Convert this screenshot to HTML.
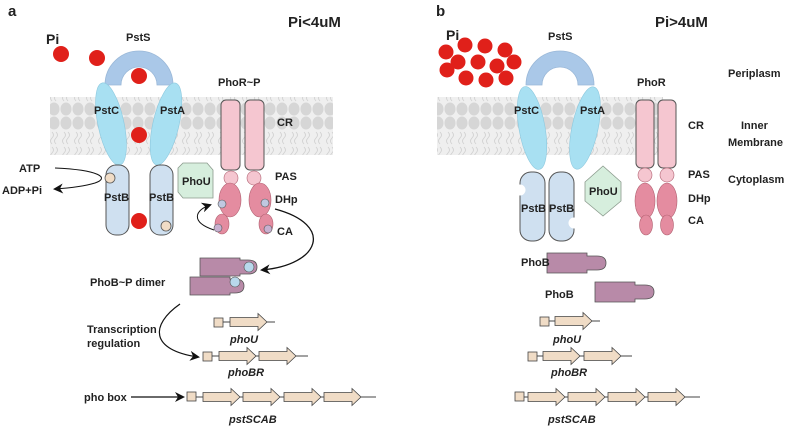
<!DOCTYPE html>
<html><head><meta charset="utf-8"><style>
body{margin:0;background:#fff}
svg{display:block}
text{font-family:"Liberation Sans",Arial,sans-serif;font-weight:bold;font-size:11px;fill:#222}
.it{font-style:italic}
</style></head><body>
<svg width="800" height="428" viewBox="0 0 800 428" xmlns="http://www.w3.org/2000/svg">
<defs>
<marker id="ah" markerWidth="10" markerHeight="10" refX="8" refY="5" orient="auto" markerUnits="userSpaceOnUse"><path d="M0,0 L10,5 L0,10 L3,5 z" fill="#111"/></marker>
<pattern id="mem" width="12" height="58" patternUnits="userSpaceOnUse">
<rect width="12" height="58" fill="#efefef"/>
<ellipse cx="6" cy="7" rx="5.5" ry="6.5" fill="#d6d6d6"/>
<ellipse cx="6" cy="51" rx="5.5" ry="6.5" fill="#d6d6d6"/>
<path d="M4,16 q3,3 0,6 q-3,3 0,6 M8,16 q3,3 0,6 q-3,3 0,6 M4,31 q3,3 0,6 q-3,3 0,6 M8,31 q3,3 0,6 q-3,3 0,6" stroke="#cfcfcf" fill="none" stroke-width="0.8"/>
</pattern>
<g id="gene"><path d="M0,-4.5 h28 v-4 l9,8.5 l-9,8.5 v-4 h-28 z" fill="#f0dcc6" stroke="#444" stroke-width="0.8"/></g>
</defs>

<!-- Panel a -->
<text x="8" y="16" style="font-size:15px">a</text>
<text x="288" y="27" style="font-size:15px">Pi&lt;4uM</text>
<text x="46" y="44" style="font-size:14px">Pi</text>
<text x="126" y="41" style="font-size:11px">PstS</text>
<rect x="50" y="97" width="283" height="58" fill="url(#mem)"/>
<path d="M105,85 A34,34 0 0 1 173,85 L157,85 A18,18 0 0 0 121,85 z" fill="#aac8e8" stroke="#9ab8d8" stroke-width="0.8"/>
<ellipse cx="111" cy="124" rx="13" ry="42" transform="rotate(-12 111 124)" fill="#a8e0f2" stroke="#8cc8de" stroke-width="0.6"/>
<ellipse cx="166" cy="124" rx="13" ry="42" transform="rotate(13 166 124)" fill="#a8e0f2" stroke="#8cc8de" stroke-width="0.6"/>
<text x="94" y="114">PstC</text><text x="160" y="114">PstA</text>
<rect x="106" y="165" width="23" height="70" rx="10" fill="#cfe0f0" stroke="#555"/>
<rect x="150" y="165" width="23" height="70" rx="10" fill="#cfe0f0" stroke="#555"/>
<text x="104" y="201">PstB</text><text x="149" y="201">PstB</text>
<circle cx="110" cy="178" r="5" fill="#f0dcc6" stroke="#555" stroke-width="0.8"/>
<circle cx="166" cy="226" r="5" fill="#f0dcc6" stroke="#555" stroke-width="0.8"/>
<g fill="#e0201a"><circle cx="61" cy="54" r="8"/><circle cx="97" cy="58" r="8"/><circle cx="139" cy="76" r="8"/><circle cx="139" cy="135" r="8"/><circle cx="139" cy="221" r="8"/></g>
<text x="19" y="172">ATP</text><text x="2" y="194">ADP+Pi</text>
<path d="M55,168 C100,170 110,178 95,183 C85,186 70,188 55,189" stroke="#111" fill="none" stroke-width="1" marker-end="url(#ah)"/>
<path d="M183,163 h24 l6,7 v28 h-30 l-5,-6 v-24 z" fill="#d6eedd" stroke="#8a9a8c" stroke-width="0.8"/>
<text x="182" y="185">PhoU</text>
<text x="218" y="86">PhoR~P</text>
<rect x="221" y="100" width="19" height="70" rx="5" fill="#f5c6d0" stroke="#555"/>
<rect x="245" y="100" width="19" height="70" rx="5" fill="#f5c6d0" stroke="#555"/>
<circle cx="231" cy="178" r="7" fill="#f5c6d0" stroke="#b06070" stroke-width="0.6"/>
<circle cx="254" cy="178" r="7" fill="#f5c6d0" stroke="#b06070" stroke-width="0.6"/>
<ellipse cx="230" cy="200" rx="11" ry="17" fill="#e48ca0" stroke="#b06070" stroke-width="0.6"/>
<ellipse cx="260" cy="200" rx="11" ry="17" fill="#e48ca0" stroke="#b06070" stroke-width="0.6"/>
<ellipse cx="222" cy="224" rx="7" ry="10" fill="#e48ca0" stroke="#b06070" stroke-width="0.6"/>
<ellipse cx="266" cy="224" rx="7" ry="10" fill="#e48ca0" stroke="#b06070" stroke-width="0.6"/>
<circle cx="222" cy="204" r="4" fill="#c0c8e0" stroke="#555" stroke-width="0.6"/>
<circle cx="265" cy="203" r="4" fill="#c0c8e0" stroke="#555" stroke-width="0.6"/>
<circle cx="218" cy="228" r="4" fill="#c8b0d0" stroke="#555" stroke-width="0.6"/>
<circle cx="268" cy="229" r="4" fill="#c8b0d0" stroke="#555" stroke-width="0.6"/>
<path d="M214,230 C190,222 195,210 210,205" stroke="#111" fill="none" marker-end="url(#ah)"/>
<text x="277" y="126">CR</text><text x="275" y="180">PAS</text><text x="275" y="203">DHp</text><text x="277" y="235">CA</text>
<path d="M275,209 C335,225 320,265 262,270" stroke="#111" fill="none" stroke-width="1.3" marker-end="url(#ah)"/>
<path d="M200,258 h40 v2 h8 q9,0 9,7 q0,7 -9,7 h-8 v2 h-40 z" fill="#b88aa8" stroke="#555" stroke-width="0.8"/>
<path d="M190,277 h40 v2 h5 q9,0 9,7 q0,7 -9,7 h-5 v2 h-40 z" fill="#b88aa8" stroke="#555" stroke-width="0.8"/>
<circle cx="249" cy="267" r="5" fill="#b8d8ec" stroke="#555" stroke-width="0.6"/>
<circle cx="235" cy="282" r="5" fill="#b8d8ec" stroke="#555" stroke-width="0.6"/>
<text x="90" y="286">PhoB~P dimer</text>
<text x="87" y="333">Transcription</text><text x="87" y="347">regulation</text>
<path d="M180,304 C150,325 150,350 198,357" stroke="#111" fill="none" stroke-width="1.2" marker-end="url(#ah)"/>
<rect x="214" y="318" width="9" height="9" fill="#f0dcc6" stroke="#444" stroke-width="0.8"/>
<line x1="223" y1="322" x2="275" y2="322" stroke="#444"/>
<use href="#gene" x="230" y="322"/>
<text x="230" y="343" class="it">phoU</text>
<rect x="203" y="352" width="9" height="9" fill="#f0dcc6" stroke="#444" stroke-width="0.8"/>
<line x1="212" y1="356" x2="308" y2="356" stroke="#444"/>
<use href="#gene" x="219" y="356"/><use href="#gene" x="259" y="356"/>
<text x="228" y="376" class="it">phoBR</text>
<text x="84" y="401">pho box</text>
<line x1="131" y1="397" x2="183" y2="397" stroke="#111" stroke-width="1.3" marker-end="url(#ah)"/>
<rect x="187" y="392" width="9" height="9" fill="#f0dcc6" stroke="#444" stroke-width="0.8"/>
<line x1="196" y1="397" x2="376" y2="397" stroke="#444"/>
<use href="#gene" x="203" y="397"/><use href="#gene" x="243" y="397"/><use href="#gene" x="284" y="397"/><use href="#gene" x="324" y="397"/>
<text x="229" y="423" class="it">pstSCAB</text>

<!-- Panel b -->
<text x="436" y="16" style="font-size:15px">b</text>
<text x="655" y="27" style="font-size:15px">Pi&gt;4uM</text>
<text x="446" y="40" style="font-size:14px">Pi</text>
<text x="548" y="40" style="font-size:11px">PstS</text>
<rect x="437" y="97" width="226" height="58" fill="url(#mem)"/>
<path d="M526,85 A34,34 0 0 1 594,85 L578,85 A18,18 0 0 0 542,85 z" fill="#aac8e8" stroke="#9ab8d8" stroke-width="0.8"/>
<ellipse cx="532" cy="128" rx="13" ry="42" transform="rotate(-10 532 128)" fill="#a8e0f2" stroke="#8cc8de" stroke-width="0.6"/>
<ellipse cx="585" cy="128" rx="13" ry="42" transform="rotate(12 585 128)" fill="#a8e0f2" stroke="#8cc8de" stroke-width="0.6"/>
<text x="514" y="114">PstC</text><text x="580" y="114">PstA</text>
<g fill="#e0201a">
<circle cx="446" cy="52" r="7.5"/><circle cx="465" cy="45" r="7.5"/><circle cx="485" cy="46" r="7.5"/><circle cx="505" cy="50" r="7.5"/>
<circle cx="458" cy="62" r="7.5"/><circle cx="478" cy="62" r="7.5"/><circle cx="497" cy="66" r="7.5"/><circle cx="514" cy="62" r="7.5"/>
<circle cx="466" cy="78" r="7.5"/><circle cx="486" cy="80" r="7.5"/><circle cx="506" cy="78" r="7.5"/><circle cx="447" cy="70" r="7.5"/></g>
<rect x="520" y="172" width="25" height="69" rx="11" fill="#cfe0f0" stroke="#555"/>
<rect x="549" y="172" width="25" height="69" rx="11" fill="#cfe0f0" stroke="#555"/>
<circle cx="520" cy="190" r="5.5" fill="#fff"/><circle cx="574" cy="223" r="5.5" fill="#fff"/>
<text x="521" y="212">PstB</text><text x="549" y="212">PstB</text>
<path d="M603,166 L621,182 L621,201 L603,216 L585,201 L585,182 z" fill="#d6eedd" stroke="#8a9a8c" stroke-width="0.8"/>
<text x="589" y="195">PhoU</text>
<text x="637" y="86">PhoR</text>
<rect x="636" y="100" width="18" height="68" rx="5" fill="#f5c6d0" stroke="#555"/>
<rect x="658" y="100" width="18" height="68" rx="5" fill="#f5c6d0" stroke="#555"/>
<circle cx="645" cy="175" r="7" fill="#f5c6d0" stroke="#b06070" stroke-width="0.6"/>
<circle cx="667" cy="175" r="7" fill="#f5c6d0" stroke="#b06070" stroke-width="0.6"/>
<ellipse cx="645" cy="201" rx="10" ry="18" fill="#e48ca0" stroke="#b06070" stroke-width="0.6"/>
<ellipse cx="667" cy="201" rx="10" ry="18" fill="#e48ca0" stroke="#b06070" stroke-width="0.6"/>
<ellipse cx="646" cy="225" rx="6.5" ry="10" fill="#e48ca0" stroke="#b06070" stroke-width="0.6"/>
<ellipse cx="667" cy="225" rx="6.5" ry="10" fill="#e48ca0" stroke="#b06070" stroke-width="0.6"/>
<text x="688" y="129">CR</text><text x="688" y="178">PAS</text><text x="688" y="202">DHp</text><text x="688" y="224">CA</text>
<text x="728" y="77">Periplasm</text><text x="741" y="129">Inner</text><text x="728" y="146">Membrane</text><text x="728" y="183">Cytoplasm</text>
<path d="M547,253 h40 v3 h10 q9,0 9,7 q0,7 -9,7 h-10 v3 h-40 z" fill="#b88aa8" stroke="#555" stroke-width="0.8"/>
<path d="M595,282 h40 v3 h10 q9,0 9,7 q0,7 -9,7 h-10 v3 h-40 z" fill="#b88aa8" stroke="#555" stroke-width="0.8"/>
<text x="521" y="266">PhoB</text><text x="545" y="298">PhoB</text>
<rect x="540" y="317" width="9" height="9" fill="#f0dcc6" stroke="#444" stroke-width="0.8"/>
<line x1="549" y1="321" x2="600" y2="321" stroke="#444"/>
<use href="#gene" x="555" y="321"/>
<text x="553" y="343" class="it">phoU</text>
<rect x="528" y="352" width="9" height="9" fill="#f0dcc6" stroke="#444" stroke-width="0.8"/>
<line x1="537" y1="356" x2="632" y2="356" stroke="#444"/>
<use href="#gene" x="543" y="356"/><use href="#gene" x="584" y="356"/>
<text x="551" y="376" class="it">phoBR</text>
<rect x="515" y="392" width="9" height="9" fill="#f0dcc6" stroke="#444" stroke-width="0.8"/>
<line x1="524" y1="397" x2="700" y2="397" stroke="#444"/>
<use href="#gene" x="528" y="397"/><use href="#gene" x="568" y="397"/><use href="#gene" x="608" y="397"/><use href="#gene" x="648" y="397"/>
<text x="548" y="423" class="it">pstSCAB</text>
</svg>
</body></html>
